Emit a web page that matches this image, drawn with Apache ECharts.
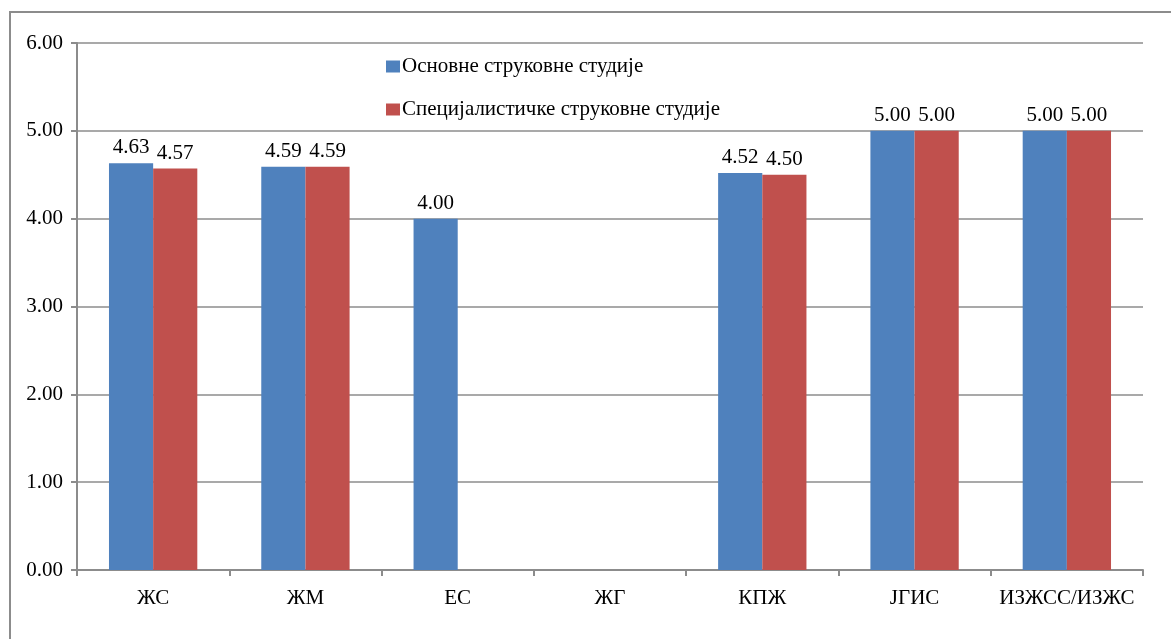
<!DOCTYPE html>
<html>
<head>
<meta charset="utf-8">
<script src="https://cdn.jsdelivr.net/npm/echarts@6/dist/echarts.min.js"></script>
<style>
  html, body { margin: 0; padding: 0; background: #fff; }
  #main { width: 1171px; height: 639px; }
</style>
</head>
<body>
<div id="main"></div>
<script>
  // categories and series values
  var categories = ['ЖС', 'ЖМ', 'ЕС', 'ЖГ', 'КПЖ', 'ЈГИС', 'ИЗЖСС/ИЗЖС']
  var osnovne = [4.63, 4.59, 4.00, null, 4.52, 5.00, 5.00]
  var specijalisticke = [4.57, 4.59, null, null, 4.50, 5.00, 5.00]
  var seriesNames = ['Основне струковне студије', 'Специјалистичке струковне студије']

  var font = 'Liberation Serif, Times New Roman, serif'
  var gray = '#8c8c8c'

  var labelOpt = {
    show: true,
    position: 'top',
    distance: 5,
    color: '#000',
    fontFamily: font,
    fontSize: 21,
    formatter: function (p) { return p.value == null ? '' : p.value.toFixed(2) }
  }

  var myChart = echarts.init(document.getElementById('main'))
  myChart.setOption({
    animation: false,
    backgroundColor: '#fff',
    graphic: [{
      type: 'rect',
      shape: { x: 10, y: 12, width: 1300, height: 800 },
      style: { fill: 'none', stroke: gray, lineWidth: 2 },
      z: -1
    }],
    legend: {
      orient: 'vertical',
      left: 381,
      top: 51,
      itemWidth: 14,
      itemHeight: 12,
      itemGap: 22,
      icon: 'rect',
      textStyle: { fontFamily: font, fontSize: 21, color: '#000', padding: [0, 0, 0, -3] },
      data: seriesNames
    },
    grid: { left: 77, right: 28, top: 43, bottom: 69 },
    xAxis: {
      type: 'category',
      data: categories,
      axisLine: { lineStyle: { color: gray, width: 2 } },
      axisTick: { show: true, interval: 0, length: 6, lineStyle: { color: gray, width: 2 } },
      axisLabel: { interval: 0, hideOverlap: false, color: '#000', fontFamily: font, fontSize: 21, margin: 18 }
    },
    yAxis: {
      type: 'value',
      min: 0,
      max: 6,
      interval: 1,
      axisLine: { show: true, lineStyle: { color: gray, width: 2 } },
      axisTick: { show: true, length: 6, lineStyle: { color: gray, width: 2 } },
      axisLabel: {
        color: '#000', fontFamily: font, fontSize: 21, margin: 14,
        formatter: function (v) { return v.toFixed(2) }
      },
      splitLine: { lineStyle: { color: gray, width: 1.5 } }
    },
    series: [{
      name: seriesNames[0],
      type: 'bar',
      data: osnovne,
      barGap: '0%',
      barCategoryGap: '42%',
      itemStyle: { color: '#4f81bd' },
      label: labelOpt
    }, {
      name: seriesNames[1],
      type: 'bar',
      data: specijalisticke,
      itemStyle: { color: '#c0504d' },
      label: labelOpt
    }]
  })
</script>
</body>
</html>
